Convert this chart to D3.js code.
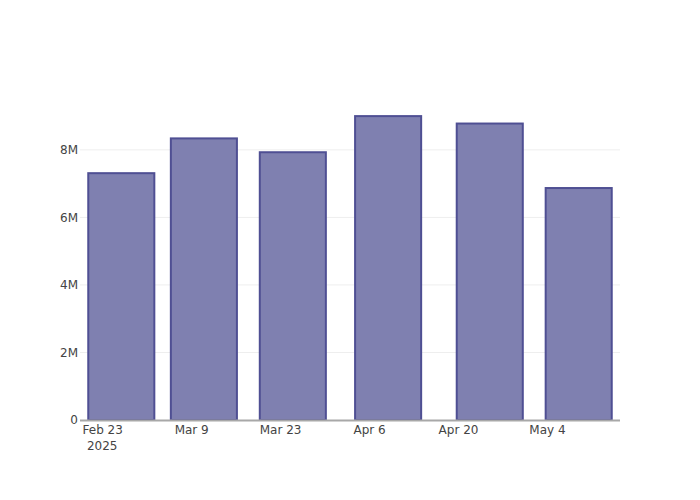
<!DOCTYPE html>
<html>
<head>
<meta charset="utf-8">
<script src="https://cdn.jsdelivr.net/npm/d3@7"></script>
<style>
  html, body { margin: 0; padding: 0; background: #fff; }
  svg { display: block; }
</style>
</head>
<body>
<svg id="chart" width="700" height="500"></svg>
<script>
// ---- data ----
const dates = ["2025-02-26", "2025-03-11", "2025-03-25", "2025-04-09", "2025-04-25", "2025-05-09"];
const values = [7310000, 8340000, 7930000, 9000000, 8780000, 6870000];
const xTickDates = ["2025-02-23", "2025-03-09", "2025-03-23", "2025-04-06", "2025-04-20", "2025-05-04"];
const xTickLabels = ["Feb 23", "Mar 9", "Mar 23", "Apr 6", "Apr 20", "May 4"];
const yTicks = [0, 2000000, 4000000, 6000000, 8000000];
const yTickLabels = ["0", "2M", "4M", "6M", "8M"];

// ---- layout ----
const W = 700, H = 500;
const margin = { l: 80, r: 80, t: 100, b: 80 };
const pw = W - margin.l - margin.r, ph = H - margin.t - margin.b;
const DAY = 86400000;
const parse = d3.utcParse("%Y-%m-%d");
const dts = dates.map(parse);

const x = d3.scaleUtc()
  .domain([new Date(dts[0].getTime() - 6.5 * DAY), new Date(dts[dts.length - 1].getTime() + 6.5 * DAY)])
  .range([margin.l, margin.l + pw]);
const y = d3.scaleLinear()
  .domain([0, d3.max(values) * 1.053])
  .range([margin.t + ph, margin.t]);

const minGap = d3.min(d3.pairs(dts), ([a, b]) => b - a);
const barW = x(new Date(dts[0].getTime() + 0.8 * minGap)) - x(dts[0]);

const svg = d3.select("#chart");
const font = "'DejaVu Sans', 'Open Sans', Verdana, Arial, sans-serif";

// grid lines
svg.append("g").selectAll("line")
  .data(yTicks.filter(v => v !== 0))
  .join("line")
  .attr("x1", margin.l).attr("x2", margin.l + pw)
  .attr("y1", d => y(d)).attr("y2", d => y(d))
  .attr("stroke", "#eeeeee").attr("stroke-width", 1);

// bars
svg.append("g").selectAll("rect")
  .data(values)
  .join("rect")
  .attr("x", (d, i) => x(dts[i]) - barW / 2)
  .attr("width", barW)
  .attr("y", d => y(d))
  .attr("height", d => y(0) - y(d))
  .attr("fill", "#7f80b0")
  .attr("stroke", "#4f4f93")
  .attr("stroke-width", 2);

// x axis line
svg.append("line")
  .attr("x1", margin.l).attr("x2", margin.l + pw)
  .attr("y1", y(0) + 0.5).attr("y2", y(0) + 0.5)
  .attr("stroke", "#a8a8a8").attr("stroke-width", 2);

// y axis tick labels
const ya = d3.axisLeft(y).tickValues(yTicks).tickFormat((d, i) => yTickLabels[i]).tickSize(0).tickPadding(2);
const yg = svg.append("g").attr("transform", `translate(${margin.l},0)`).call(ya);
yg.select(".domain").remove();
yg.selectAll("text").attr("font-family", font).attr("font-size", 12).attr("fill", "#444");

// x axis tick labels
const xa = d3.axisBottom(x).tickValues(xTickDates.map(parse)).tickFormat((d, i) => xTickLabels[i]).tickSize(0).tickPadding(5);
const xg = svg.append("g").attr("transform", `translate(0,${y(0)})`).call(xa);
xg.select(".domain").remove();
xg.selectAll("text").attr("font-family", font).attr("font-size", 12).attr("fill", "#444");
// year sub-label under first tick
xg.append("text")
  .attr("x", x(parse(xTickDates[0])))
  .attr("y", 29.5)
  .attr("text-anchor", "middle")
  .attr("font-family", font).attr("font-size", 12).attr("fill", "#444")
  .text("2025");
</script>
</body>
</html>
